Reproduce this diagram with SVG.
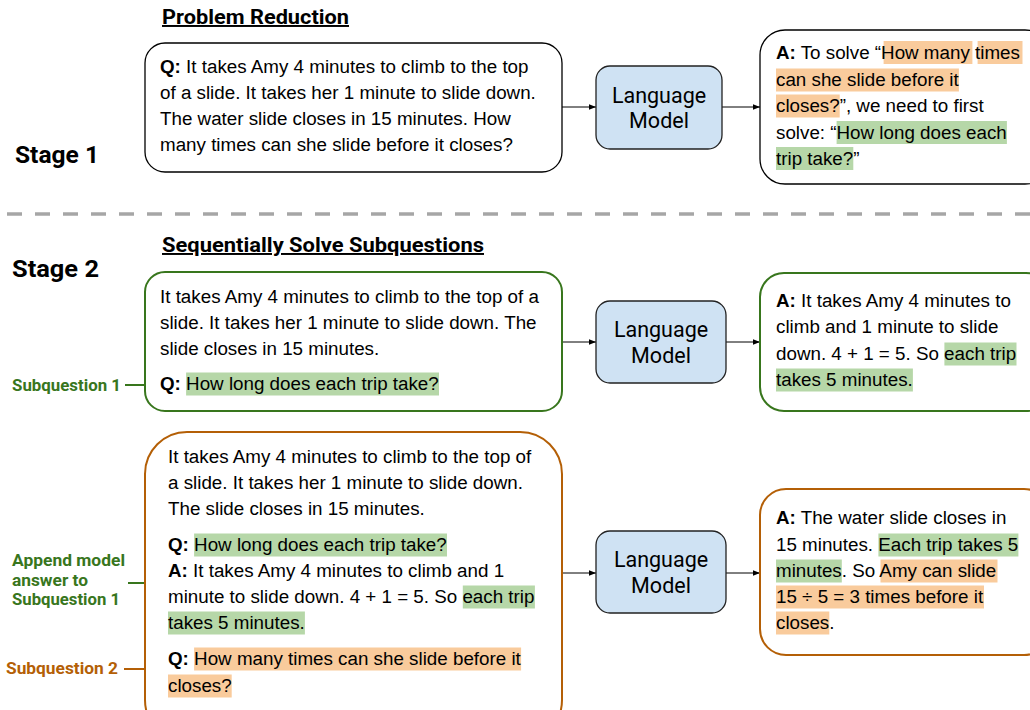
<svg xmlns="http://www.w3.org/2000/svg" width="1030" height="710" viewBox="0 0 1030 710">
<defs>
<style>
.t{font-family:"Liberation Sans",Arial,sans-serif;font-size:18.8px;fill:#000}
.b{font-weight:bold}
.h{font-family:Roboto,"Liberation Sans",sans-serif;font-weight:bold;fill:#000}
.stage{font-size:24.5px}
.title{font-size:19.5px;text-decoration:underline}
.lm{font-family:Roboto,"Liberation Sans",sans-serif;font-size:21.5px;fill:#000;text-anchor:middle}
.lmbox{fill:#cfe2f3;stroke:#222;stroke-width:1.3}
.bk{fill:#fff;stroke:#000;stroke-width:1.3}
.gr{fill:#fff;stroke:#38761d;stroke-width:2}
.or{fill:#fff;stroke:#b45f06;stroke-width:2}
.hg{fill:#b6d7a8}
.ho{fill:#f9cb9c}
.lbl{font-family:Roboto,"Liberation Sans",sans-serif;font-weight:bold;font-size:16.5px}
.lg{fill:#38761d}
.lo{fill:#b45f06}
.conn{stroke:#000;stroke-width:1;fill:none;marker-end:url(#ah)}
</style>
<marker id="ah" viewBox="0 0 10 10" refX="10" refY="5" markerWidth="7" markerHeight="7" markerUnits="userSpaceOnUse" orient="auto">
<path d="M0,1 L10,5 L0,9 z" fill="#000"/>
</marker>
</defs>
<rect width="1030" height="710" fill="#fff"/>

<g id="headers">
<text class="h title" x="162" y="24" textLength="187" lengthAdjust="spacingAndGlyphs">Problem Reduction</text>
<text class="h stage" x="15" y="163" textLength="84" lengthAdjust="spacingAndGlyphs">Stage 1</text>
<text class="h stage" x="12" y="277" textLength="87" lengthAdjust="spacingAndGlyphs">Stage 2</text>
<text class="h title" x="162" y="252" textLength="322" lengthAdjust="spacingAndGlyphs">Sequentially Solve Subquestions</text>
<line x1="7" y1="214" x2="1030" y2="214" stroke="#a6a6a6" stroke-width="3.5" stroke-dasharray="15 13"/>
</g>

<g id="connectors">
<line class="conn" x1="562" y1="107" x2="596" y2="107"/>
<line class="conn" x1="722" y1="107" x2="760" y2="107"/>
<line class="conn" x1="562" y1="342" x2="596" y2="342"/>
<line class="conn" x1="726" y1="342" x2="760" y2="342"/>
<line class="conn" x1="562" y1="573" x2="596" y2="573"/>
<line class="conn" x1="726" y1="573" x2="760" y2="573"/>
<line x1="125" y1="385" x2="147" y2="385" stroke="#38761d" stroke-width="2"/>
<line x1="128" y1="583" x2="156" y2="583" stroke="#38761d" stroke-width="2"/>
<line x1="124" y1="669" x2="156" y2="669" stroke="#b45f06" stroke-width="2"/>
</g>

<g id="q1">
<rect class="bk" x="145" y="43" width="417" height="129" rx="20"/>
<text class="t" x="160" y="73"><tspan class="b">Q:</tspan> It takes Amy 4 minutes to climb to the top</text>
<text class="t" x="160" y="99">of a slide. It takes her 1 minute to slide down.</text>
<text class="t" x="160" y="125">The water slide closes in 15 minutes. How</text>
<text class="t" x="160" y="151">many times can she slide before it closes?</text>
</g>

<g id="lm1">
<rect class="lmbox" x="596" y="66" width="126" height="83" rx="14"/>
<text class="lm" x="659" y="103">Language</text>
<text class="lm" x="659" y="128">Model</text>
</g>

<g id="a1">
<rect class="bk" x="760" y="30" width="290" height="154" rx="25"/>
<rect class="ho" x="883.6" y="41" width="88.8" height="23"/>
<rect class="ho" x="977.6" y="41" width="44.9" height="23"/>
<rect class="ho" x="776" y="68.5" width="182.9" height="23"/>
<rect class="ho" x="776" y="94.5" width="63.7" height="23"/>
<rect class="hg" x="836.6" y="121" width="170.3" height="23"/>
<rect class="hg" x="776" y="147" width="77.3" height="23"/>
<text class="t" x="776" y="59"><tspan class="b">A:</tspan> To solve “How many times</text>
<text class="t" x="776" y="86">can she slide before it</text>
<text class="t" x="776" y="112">closes?”, we need to first</text>
<text class="t" x="776" y="139">solve: “How long does each</text>
<text class="t" x="776" y="165">trip take?”</text>
</g>

<g id="q2">
<rect class="gr" x="145" y="272" width="417" height="139" rx="20"/>
<rect class="hg" x="186.1" y="372.5" width="252.9" height="23"/>
<text class="t" x="160" y="303">It takes Amy 4 minutes to climb to the top of a</text>
<text class="t" x="160" y="329">slide. It takes her 1 minute to slide down. The</text>
<text class="t" x="160" y="355">slide closes in 15 minutes.</text>
<text class="t" x="160" y="390"><tspan class="b">Q:</tspan> How long does each trip take?</text>
</g>

<g id="lab1">
<text class="lbl lg" x="12" y="391" textLength="109" lengthAdjust="spacingAndGlyphs">Subquestion 1</text>
</g>

<g id="lm2">
<rect class="lmbox" x="596" y="301" width="130" height="82" rx="14"/>
<text class="lm" x="661" y="337">Language</text>
<text class="lm" x="661" y="363">Model</text>
</g>

<g id="a2">
<rect class="gr" x="760" y="273" width="290" height="138" rx="24"/>
<rect class="hg" x="944.4" y="342.5" width="72.1" height="23"/>
<rect class="hg" x="776" y="368.5" width="136.9" height="23"/>
<text class="t" x="776" y="307"><tspan class="b">A:</tspan> It takes Amy 4 minutes to</text>
<text class="t" x="776" y="333">climb and 1 minute to slide</text>
<text class="t" x="776" y="360">down. 4 + 1 = 5. So each trip</text>
<text class="t" x="776" y="386">takes 5 minutes.</text>
</g>

<g id="q3">
<rect class="or" x="145" y="432" width="417" height="310" rx="42"/>
<rect class="hg" x="194.1" y="533.5" width="252.9" height="23"/>
<rect class="hg" x="462.8" y="585.5" width="72.1" height="23"/>
<rect class="hg" x="168" y="611.5" width="136.9" height="23"/>
<rect class="ho" x="194.1" y="647.5" width="327" height="23"/>
<rect class="ho" x="168" y="674.5" width="63.7" height="23"/>
<text class="t" x="168" y="463">It takes Amy 4 minutes to climb to the top of</text>
<text class="t" x="168" y="489">a slide. It takes her 1 minute to slide down.</text>
<text class="t" x="168" y="515">The slide closes in 15 minutes.</text>
<text class="t" x="168" y="551"><tspan class="b">Q:</tspan> How long does each trip take?</text>
<text class="t" x="168" y="577"><tspan class="b">A:</tspan> It takes Amy 4 minutes to climb and 1</text>
<text class="t" x="168" y="603">minute to slide down. 4 + 1 = 5. So each trip</text>
<text class="t" x="168" y="629">takes 5 minutes.</text>
<text class="t" x="168" y="665"><tspan class="b">Q:</tspan> How many times can she slide before it</text>
<text class="t" x="168" y="692">closes?</text>
</g>

<g id="lab2">
<text class="lbl lg" x="12" y="566" textLength="113" lengthAdjust="spacingAndGlyphs">Append model</text>
<text class="lbl lg" x="12" y="586" textLength="76" lengthAdjust="spacingAndGlyphs">answer to</text>
<text class="lbl lg" x="12" y="605" textLength="108" lengthAdjust="spacingAndGlyphs">Subquestion 1</text>
</g>

<g id="lab3">
<text class="lbl lo" x="6" y="674" textLength="112" lengthAdjust="spacingAndGlyphs">Subquestion 2</text>
</g>

<g id="lm3">
<rect class="lmbox" x="596" y="531" width="130" height="82" rx="14"/>
<text class="lm" x="661" y="567">Language</text>
<text class="lm" x="661" y="593">Model</text>
</g>

<g id="a3">
<rect class="or" x="760" y="489" width="290" height="166" rx="26"/>
<rect class="hg" x="878.4" y="533.5" width="140" height="23"/>
<rect class="hg" x="776" y="559.5" width="65.8" height="23"/>
<rect class="ho" x="880.5" y="559.5" width="117" height="23"/>
<rect class="ho" x="776" y="585.5" width="208" height="23"/>
<rect class="ho" x="776" y="611.5" width="53.3" height="23"/>
<text class="t" x="776" y="524"><tspan class="b">A:</tspan> The water slide closes in</text>
<text class="t" x="776" y="551">15 minutes. Each trip takes 5</text>
<text class="t" x="776" y="577">minutes. So Amy can slide</text>
<text class="t" x="776" y="603">15 ÷ 5 = 3 times before it</text>
<text class="t" x="776" y="629">closes.</text>
</g>
</svg>
